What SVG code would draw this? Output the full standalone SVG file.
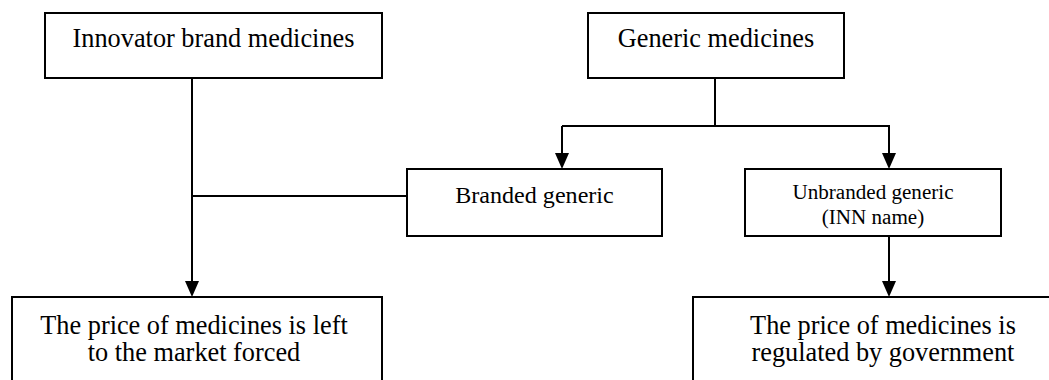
<svg xmlns="http://www.w3.org/2000/svg" width="1049" height="380" viewBox="0 0 1049 380">
<style>
.box{fill:#fff;stroke:#000;stroke-width:2}
.t{font-family:"Liberation Serif","Times New Roman",Times,serif;fill:#000;text-anchor:middle}
.c{fill:none;stroke:#000;stroke-width:2}
.ah{fill:#000}
</style>
<rect width="1049" height="380" fill="#fff"/>
<g id="connectors">
<path class="c" d="M192,78 V281"/>
<path class="ah" d="M185,281 L199,281 L192,297 Z"/>
<path class="c" d="M192,196 H407"/>
<path class="c" d="M715,78 V126"/>
<path class="c" d="M562,126 H890"/>
<path class="c" d="M562,126 V153"/>
<path class="ah" d="M555,153 L569,153 L562,169 Z"/>
<path class="c" d="M889,126 V153"/>
<path class="ah" d="M882,153 L896,153 L889,169 Z"/>
<path class="c" d="M889,236 V281"/>
<path class="ah" d="M882,281 L896,281 L889,297 Z"/>
</g>
<g id="innovator">
<rect class="box" x="45" y="13" width="337" height="65"/>
<text class="t" x="213.5" y="47" font-size="26.3">Innovator brand medicines</text>
</g>
<g id="generic">
<rect class="box" x="588" y="13" width="256" height="65"/>
<text class="t" x="716" y="47" font-size="26.3">Generic medicines</text>
</g>
<g id="branded">
<rect class="box" x="407" y="169" width="255" height="67"/>
<text class="t" x="534.5" y="203" font-size="24.1">Branded generic</text>
</g>
<g id="unbranded">
<rect class="box" x="745" y="169" width="256" height="67"/>
<text class="t" x="873" y="199" font-size="21.1">Unbranded generic</text>
<text class="t" x="873" y="224" font-size="21.1">(INN name)</text>
</g>
<g id="market">
<rect class="box" x="12" y="297" width="370" height="100"/>
<text class="t" x="194" y="334" font-size="26.3">The price of medicines is left</text>
<text class="t" x="194" y="361" font-size="26.3">to the market forced</text>
</g>
<g id="regulated">
<rect class="box" x="693" y="297" width="400" height="100"/>
<text class="t" x="883" y="334" font-size="26.3">The price of medicines is</text>
<text class="t" x="883" y="361" font-size="26.3">regulated by government</text>
</g>
</svg>
